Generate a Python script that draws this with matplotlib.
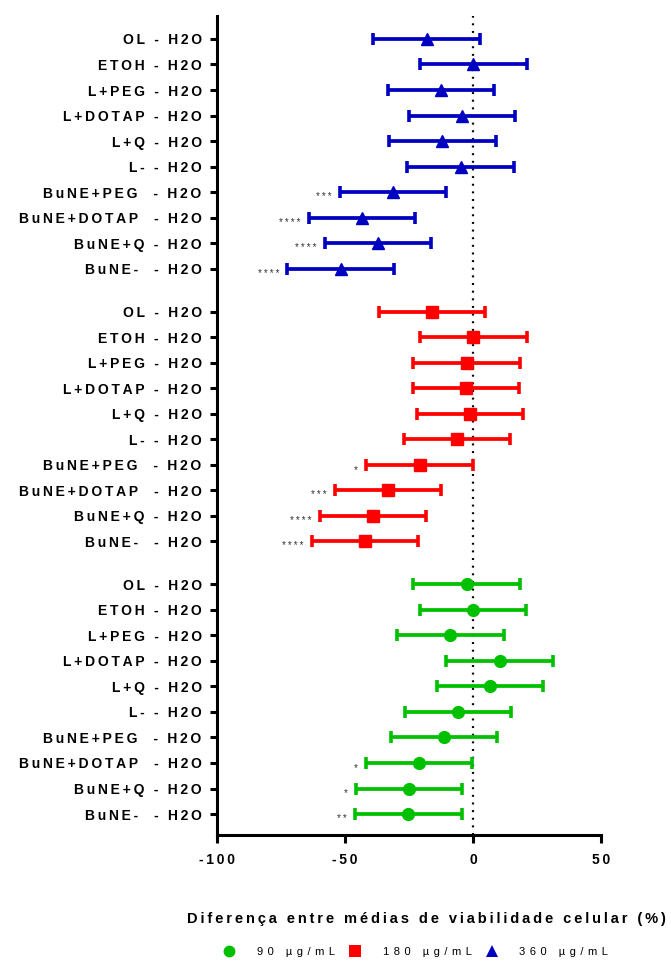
import matplotlib
matplotlib.use('Agg')
import matplotlib.pyplot as plt
from matplotlib.lines import Line2D
import numpy as np

plt.rcParams['font.family'] = ['Liberation Sans', 'DejaVu Sans']
plt.rcParams['lines.scale_dashes'] = False

comparisons = ["OL - H2O", "ETOH - H2O", "L+PEG - H2O", "L+DOTAP - H2O", "L+Q - H2O",
               "L- - H2O", "BuNE+PEG  - H2O", "BuNE+DOTAP  - H2O", "BuNE+Q - H2O", "BuNE-  - H2O"]

# 360 ug/mL (blue, triangles)
mean_360 = [-18.1, 0.0, -12.5, -4.2, -12.0, -4.8, -31.1, -43.4, -37.2, -51.4]
low_360 = [-38.9, -20.8, -33.3, -25.0, -32.8, -25.8, -52.0, -64.2, -57.8, -72.5]
high_360 = [2.7, 21.1, 8.2, 16.4, 9.0, 16.0, -10.5, -22.7, -16.4, -30.9]
stars_360 = ["", "", "", "", "", "", "***", "****", "****", "****"]

# 180 ug/mL (red, squares)
mean_180 = [-15.9, 0.1, -2.5, -2.9, -1.3, -6.4, -20.8, -33.3, -38.9, -42.3]
low_180 = [-36.7, -20.7, -23.4, -23.4, -21.9, -27.0, -41.8, -53.9, -59.8, -62.9]
high_180 = [4.7, 21.1, 18.4, 18.0, 19.5, 14.5, 0.0, -12.5, -18.4, -21.5]
stars_180 = ["", "", "", "", "", "", "*", "***", "****", "****"]

# 90 ug/mL (green, circles)
mean_90 = [-2.5, 0.0, -8.8, 10.4, 6.6, -5.9, -11.3, -21.2, -25.1, -25.4]
low_90 = [-23.4, -20.7, -29.7, -10.5, -14.1, -26.6, -32.0, -41.8, -45.7, -46.1]
high_90 = [18.4, 20.7, 12.1, 31.2, 27.3, 14.8, 9.4, -0.4, -4.3, -4.3]
stars_90 = ["", "", "", "", "", "", "", "*", "*", "**"]

legend_labels = ["90 µg/mL", "180 µg/mL", "360 µg/mL"]
xlabel = "Diferença entre médias de viabilidade celular (%)"
xticks = [-100, -50, 0, 50]

TS = "\u2009"


def spaced(s, sep=TS):
    return sep.join(list(s))


groups = [
    (mean_360, low_360, high_360, stars_360, "#0000C0", "^"),
    (mean_180, low_180, high_180, stars_180, "#FF0000", "s"),
    (mean_90, low_90, high_90, stars_90, "#00C000", "o"),
]

fig = plt.figure(figsize=(6.71, 9.61), dpi=100)
ax = fig.add_axes([0.3234, 0.1311, 0.5723, 0.8523])

gap = 10.67
all_y = []
all_labels = []
for g, (m, lo, hi, st, col, mk) in enumerate(groups):
    m = np.array(m); lo = np.array(lo); hi = np.array(hi)
    y = g * gap + np.arange(len(m))
    ax.errorbar(m, y, xerr=[m - lo, hi - m], fmt=mk, color=col, ms=8.5,
                elinewidth=2.7, capsize=4.5, capthick=2.6, zorder=3)
    for xi, yi, s in zip(lo, y, st):
        if s:
            ax.annotate(spaced(s), xy=(xi, yi), xytext=(-6, -3.5), textcoords='offset points',
                        ha='right', va='center', fontsize=7, color='#333333')
    all_y.extend(y)
    all_labels.extend(comparisons)

ax.axvline(0, color='black', lw=1.6, dashes=(1.4, 4.1), zorder=2)

ax.set_yticks(all_y)
ax.set_yticklabels([spaced(l) for l in all_labels], fontweight='bold', fontsize=10)
ax.set_ylim(2 * gap + 9 + 0.82, -0.9)
ax.set_xlim(-100, 50)
ax.set_xticks(xticks)
ax.set_xticklabels([spaced(str(t)) for t in xticks], fontweight='bold', fontsize=10)

for s in ['top', 'right']:
    ax.spines[s].set_visible(False)
for s in ['left', 'bottom']:
    ax.spines[s].set_linewidth(2.2)
ax.tick_params(axis='y', length=5, width=2.2, pad=6)
ax.tick_params(axis='x', length=6, width=2.2, pad=7)

ax.set_xlabel(spaced(xlabel), fontweight='bold', fontsize=10.5, labelpad=32)
ax.xaxis.label.set_x(0.545)

handles = [Line2D([], [], ls='none', marker=mk, color=col, ms=8.5, mew=0)
           for (_, _, _, _, col, mk) in groups[::-1]]
fig.legend(handles, [spaced(l, TS * 2) for l in legend_labels], loc='center',
           bbox_to_anchor=(0.62, 0.009), ncol=3, frameon=False, fontsize=8,
           handlelength=1, handletextpad=2.0, columnspacing=1.3, borderaxespad=0)

fig.savefig('out.png', dpi=100)
